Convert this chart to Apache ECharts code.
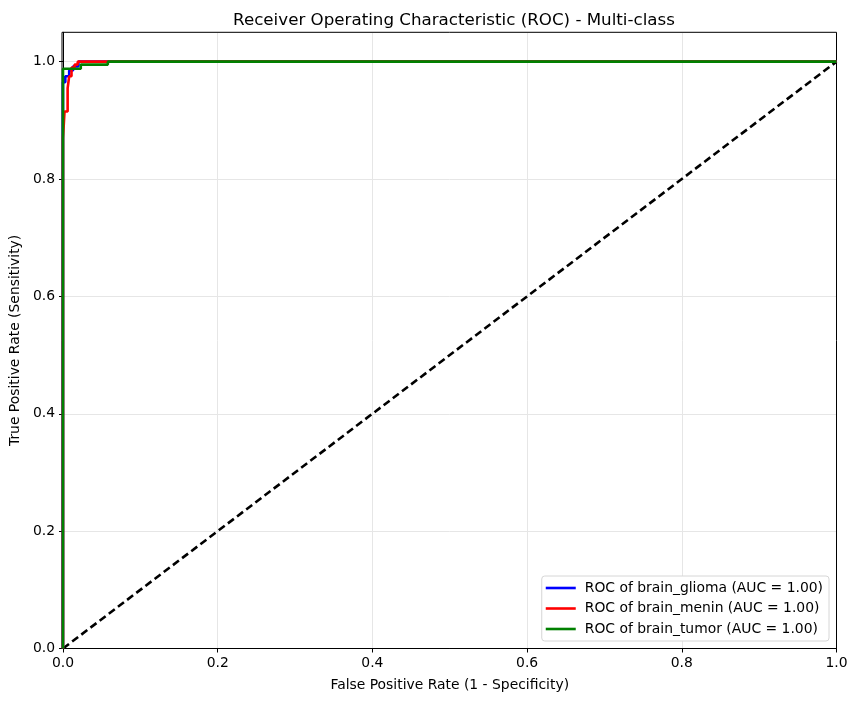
<!DOCTYPE html>
<html>
<head>
<meta charset="utf-8">
<script src="https://cdn.jsdelivr.net/npm/echarts@6/dist/echarts.min.js"></script>
<style>
  html, body { margin: 0; padding: 0; background: #fff; }
  #roc-chart { width: 857px; height: 701px; }
</style>
</head>
<body>
<div id="roc-chart"></div>
<script>
// 各类别的 ROC 曲线点
var gliomaFpr = [0, 0, 0.003, 0.003, 0.008, 0.008, 0.013, 0.013, 0.02, 0.02, 1];
var gliomaTpr = [0, 0.965, 0.965, 0.975, 0.975, 0.985, 0.985, 0.992, 0.992, 1, 1];

var meninFpr = [0, 0, 0.002, 0.002, 0.006, 0.006, 0.008, 0.008, 0.011, 0.011, 0.015, 0.015, 0.019, 0.019, 1];
var meninTpr = [0, 0.87, 0.87, 0.915, 0.915, 0.955, 0.955, 0.975, 0.975, 0.99, 0.99, 0.995, 0.995, 1, 1];

var tumorFpr = [0, 0, 0.023, 0.023, 0.058, 0.058, 1];
var tumorTpr = [0, 0.988, 0.988, 0.995, 0.995, 1, 1];

var diagonal = [0, 1];
var tickLabels = ['0.0', '0.2', '0.4', '0.6', '0.8', '1.0'];

var classNames = ['brain_glioma', 'brain_menin', 'brain_tumor'];
var aucValues = ['1.00', '1.00', '1.00'];
var colors = ['#0000ff', '#ff0000', '#008000'];

var toPairs = function(xs, ys){
    var out = [];
    for (var i = 0; i < xs.length; i++){
        out.push([xs[i], ys[i]]);
    }
    return out;
};

var curves = [
    toPairs(gliomaFpr, gliomaTpr),
    toPairs(meninFpr, meninTpr),
    toPairs(tumorFpr, tumorTpr)
];

var series = [];
var legendNames = [];
for (var i = 0; i < classNames.length; i++){
    var name = 'ROC of ' + classNames[i] + ' (AUC = ' + aucValues[i] + ')';
    legendNames.push(name);
    series.push({
        name: name,
        type: 'line',
        data: curves[i],
        showSymbol: false,
        symbol: 'none',
        animation: false,
        z: 3 + i,
        lineStyle: { color: colors[i], width: 2.6 },
        itemStyle: { color: colors[i] }
    });
}
series.push({
    name: 'diagonal',
    type: 'line',
    data: toPairs(diagonal, diagonal),
    symbol: 'none',
    animation: false,
    z: 2,
    lineStyle: { color: '#000', width: 2.6, type: [7.5, 4] }
});

var axisFont = { fontFamily: 'DejaVu Sans', fontSize: 13.9, color: '#000' };

var chart = echarts.init(document.getElementById('roc-chart'));
chart.setOption({
    backgroundColor: '#fff',
    animation: false,
    title: {
        text: 'Receiver Operating Characteristic (ROC) - Multi-class',
        left: 449,
        top: 7,
        textAlign: 'center',
        textStyle: { fontFamily: 'DejaVu Sans', fontSize: 16.7, fontWeight: 'normal', color: '#000' }
    },
    grid: { left: 62, right: 20.5, top: 32.3, bottom: 52.5, containLabel: false },
    legend: {
        data: legendNames,
        orient: 'vertical',
        right: 28,
        bottom: 60,
        padding: [5, 6, 5, 4],
        itemGap: 6.5,
        itemWidth: 30,
        itemHeight: 2.6,
        icon: 'rect',
        backgroundColor: '#fff',
        borderColor: '#d6d6d6',
        borderWidth: 1,
        borderRadius: 3,
        textStyle: { fontFamily: 'DejaVu Sans', fontSize: 13.9, color: '#000', padding: [0, 0, 0, 4] }
    },
    xAxis: {
        type: 'value',
        min: 0,
        max: 1,
        interval: 0.2,
        name: 'False Positive Rate (1 - Specificity)',
        nameLocation: 'middle',
        nameGap: 30,
        nameTextStyle: axisFont,
        axisLine: { show: true, onZero: false, lineStyle: { color: '#000', width: 1 } },
        axisTick: { show: true, length: 4, lineStyle: { color: '#000' } },
        axisLabel: Object.assign({
            margin: 8,
            formatter: function(v){ return tickLabels[Math.round(v / 0.2)]; }
        }, axisFont),
        splitLine: { show: true, lineStyle: { color: '#e6e6e6', width: 1 } }
    },
    yAxis: {
        type: 'value',
        min: 0,
        max: 1.05,
        interval: 0.2,
        name: 'True Positive Rate (Sensitivity)',
        nameLocation: 'middle',
        nameGap: 40,
        nameTextStyle: axisFont,
        axisLine: { show: true, onZero: false, lineStyle: { color: '#000', width: 1 } },
        axisTick: { show: true, length: 4, lineStyle: { color: '#000' } },
        axisLabel: Object.assign({
            margin: 8,
            showMaxLabel: false,
            formatter: function(v){
                var idx = Math.round(v / 0.2);
                return Math.abs(v - idx * 0.2) < 1e-6 ? tickLabels[idx] : '';
            }
        }, axisFont),
        splitLine: { show: true, lineStyle: { color: '#e6e6e6', width: 1 } }
    },
    graphic: [
        // 上边框和右边框 (matplotlib 风格的四周框线), 放在曲线下面
        { type: 'rect', shape: { x: 62, y: 32.3, width: 774.5, height: 616.2 },
          style: { fill: null, stroke: '#000', lineWidth: 1 }, silent: true, z: 1 }
    ],
    series: series
});
</script>
</body>
</html>
